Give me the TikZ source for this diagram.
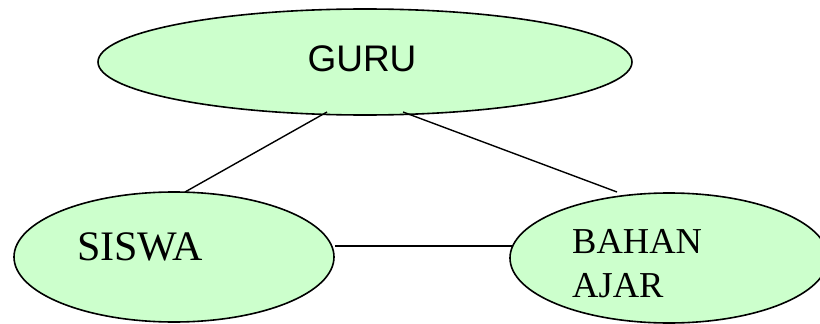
\documentclass[tikz,border=0pt]{standalone}
\usepackage{fontspec}
\setmainfont{Liberation Serif}
\newfontfamily\arialfont{Liberation Sans}
\usetikzlibrary{shapes.geometric}
\definecolor{paleGreen}{HTML}{CCFFCC}
\tikzset{
  bubble/.style={ellipse, draw=black, line width=1.6pt, fill=paleGreen, inner sep=0pt},
  link/.style={draw=black, line width=1.4pt},
  lbl/.style={inner sep=0pt, text=black}
}
\begin{document}
\begin{tikzpicture}[x=1pt, y=-1pt]
  \useasboundingbox (0,0) rectangle (820,324);

  % three ellipses
  \node[bubble, minimum width=534pt, minimum height=106pt] (guru) at (365,62) {};
  \node[bubble, minimum width=320pt, minimum height=130pt] (siswa) at (174,257) {};
  \node[bubble, minimum width=318pt, minimum height=130pt] (bahan) at (669,258) {};

  % labels
  \node[lbl, anchor=base] (guruText) at (362,71) {\arialfont\fontsize{37}{44}\selectfont GURU};
  \node[lbl, anchor=base west] (siswaText) at (77,260) {\fontsize{42}{48}\selectfont SISWA};
  \node[lbl, anchor=base west] (bahanText) at (572,253) {\fontsize{36.5}{44}\selectfont BAHAN};
  \node[lbl, anchor=base west] (ajarText) at (572,297) {\fontsize{36.5}{44}\selectfont AJAR};

  % connector end points
  \coordinate (gs1) at (327,112);
  \coordinate (gs2) at (185,192);
  \coordinate (gb1) at (403,112);
  \coordinate (gb2) at (617,192);
  \coordinate (sb1) at (siswa.east |- 0,246);
  \coordinate (sb2) at (512,246);

  \draw[link] (gs1) -- (gs2);
  \draw[link] (gb1) -- (gb2);
  \draw[link] (sb1) -- (sb2);
\end{tikzpicture}
\end{document}
